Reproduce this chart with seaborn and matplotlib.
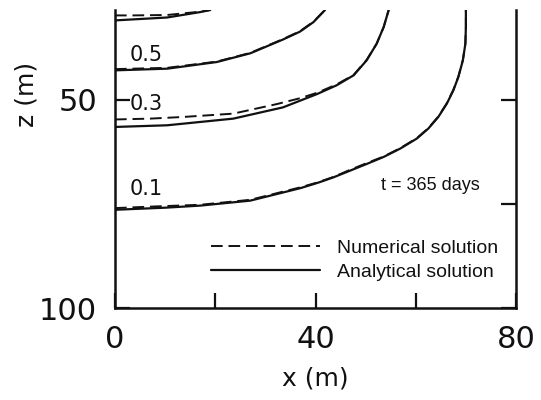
import numpy as np
import pandas as pd
import matplotlib
matplotlib.use("Agg")
import matplotlib.pyplot as plt
import seaborn as sns

# contour values (x and z in metres)
# analytical solution
ana_01_x = [0, 10, 17, 27, 37, 40.5, 43.6, 46.9, 50.2, 53.6, 56.9, 60.2, 62.5, 64.5, 66.2, 67.5, 68.5, 69.4, 69.9, 70.0, 70.0]
ana_01_z = [76.4, 75.9, 75.4, 74.2, 71.2, 69.9, 68.6, 67.0, 65.4, 63.7, 61.7, 59.3, 56.9, 54.1, 50.9, 47.7, 44.5, 40.5, 36.5, 32.5, 28.4]
ana_03_x = [0, 10.4, 23.6, 33.5, 36.9, 40.3, 44.2, 47.6, 50.2, 52.2, 53.6, 54.6]
ana_03_z = [56.5, 56.1, 54.5, 51.8, 50.2, 48.6, 46.5, 44.1, 40.5, 36.5, 32.5, 28.4]
ana_05_x = [0, 10.4, 20.3, 27, 33.5, 36.9, 39.6, 41.9]
ana_05_z = [42.9, 42.5, 40.9, 38.8, 35.5, 33.6, 31.3, 28.4]
ana_07_x = [0, 10.4, 17, 19]
ana_07_z = [30.9, 30.2, 28.9, 28.4]

# numerical solution
num_01_x = [0, 8, 17, 27, 37, 40.5, 43.6, 46.9, 50.2, 53.6, 56.9, 60.2, 62.5, 64.5, 66.2, 67.5, 68.5, 69.4, 69.9, 70.0, 70.0]
num_01_z = [76.0, 75.6, 75.2, 74.0, 71.0, 69.8, 68.5, 66.8, 65.2, 63.6, 61.6, 59.2, 56.8, 54.0, 50.8, 47.6, 44.4, 40.4, 36.5, 32.5, 28.4]
num_03_x = [0, 7, 13.6, 23.6, 32.3, 36.9, 40.3, 44.2, 47.6, 50.2, 52.2, 53.6, 54.6]
num_03_z = [54.7, 54.5, 54.1, 53.3, 51.0, 49.6, 48.3, 46.3, 44.0, 40.4, 36.5, 32.5, 28.4]
num_05_x = [0, 10.4, 20.3, 27, 33.5, 36.9, 39.6, 41.9]
num_05_z = [42.6, 42.3, 40.8, 38.7, 35.4, 33.5, 31.2, 28.4]
num_07_x = [0, 3.5, 10.4, 17, 19]
num_07_z = [29.7, 29.7, 29.6, 28.8, 28.4]

level_labels = ["0.5", "0.3", "0.1"]
level_label_z = [39.3, 51.0, 71.3]

sns.set_theme(style="white")
plt.rcParams["font.family"] = ["DejaVu Sans"]

fig = plt.figure(figsize=(5.41, 4.0), dpi=100)
ax = fig.add_axes([115 / 541, 92 / 400, 401 / 541, 298 / 400])

ink = "#111111"
analytical = [(ana_01_x, ana_01_z), (ana_03_x, ana_03_z), (ana_05_x, ana_05_z), (ana_07_x, ana_07_z)]
numerical = [(num_01_x, num_01_z), (num_03_x, num_03_z), (num_05_x, num_05_z), (num_07_x, num_07_z)]

for i, (xs, zs) in enumerate(numerical):
    sns.lineplot(x=xs, y=zs, ax=ax, sort=False, estimator=None, color=ink, lw=1.4,
                 linestyle=(0, (6, 3)), label="Numerical solution" if i == 0 else None)
for i, (xs, zs) in enumerate(analytical):
    sns.lineplot(x=xs, y=zs, ax=ax, sort=False, estimator=None, color=ink, lw=1.6,
                 label="Analytical solution" if i == 0 else None)

# contour labels
for lab, zl in zip(level_labels, level_label_z):
    ax.text(3.0, zl, lab, fontsize=15, color=ink, ha="left", va="center")

ax.text(53, 70.6, "t = 365 days", fontsize=13, color=ink, ha="left", va="center",
        family=["Liberation Sans"])

ax.set_xlim(0, 80)
ax.set_ylim(100, 28.4)
ax.set_xticks([0, 40, 80])
ax.set_xticks([20, 60], minor=True)
ax.set_yticks([50, 100])
ax.set_yticks([75], minor=True)
ax.tick_params(which="both", direction="in", length=11, width=1.6, color=ink,
               bottom=True, left=True, right=True, top=False)
ax.yaxis.set_tick_params(which="minor", left=False, right=True)
ax.tick_params(axis="x", labelsize=22, pad=12, labelcolor=ink)
ax.tick_params(axis="y", labelsize=22, pad=13, labelcolor=ink)

sns.despine(ax=ax, top=True, right=False)
for side in ["left", "right", "bottom"]:
    ax.spines[side].set_color(ink)
    ax.spines[side].set_linewidth(1.8)

ax.set_xlabel("x (m)", fontsize=18, color=ink, labelpad=9)
ax.set_ylabel("z (m)", fontsize=18, color=ink)
ax.yaxis.set_label_coords(-0.19, 0.715)

leg = ax.legend(loc="center", bbox_to_anchor=(0.598, 0.161), frameon=False,
                handlelength=5.6, handletextpad=0.9, labelspacing=0.3, borderpad=0,
                prop={"family": "Liberation Sans", "size": 14})
for t in leg.get_texts():
    t.set_color(ink)

fig.savefig("out.png", dpi=100, facecolor="white")
